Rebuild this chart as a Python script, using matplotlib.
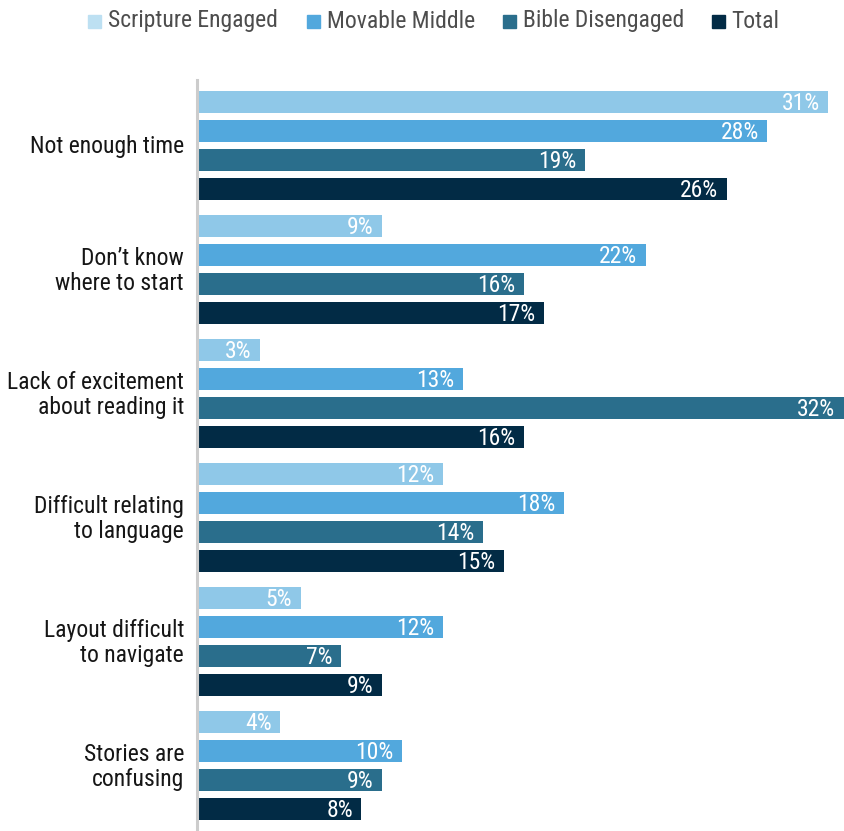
import matplotlib
matplotlib.use("Agg")
import matplotlib.pyplot as plt
import numpy as np

categories = ["Not enough time", "Don\u2019t know\nwhere to start", "Lack of excitement\nabout reading it",
              "Difficult relating\nto language", "Layout difficult\nto navigate", "Stories are\nconfusing"]
series_names = ["Scripture Engaged", "Movable Middle", "Bible Disengaged", "Total"]
scripture_engaged = [31, 9, 3, 12, 5, 4]
movable_middle = [28, 22, 13, 18, 12, 10]
bible_disengaged = [19, 16, 32, 14, 7, 9]
total = [26, 17, 16, 15, 9, 8]
colors = ["#8FC8E8", "#52A8DD", "#2A6E8C", "#022B45"]
legend_colors = ["#BDE0F2", "#52A8DD", "#2A6E8C", "#022B45"]

plt.rcParams["font.family"] = ["Roboto Condensed", "DejaVu Sans"]

W, H = 844, 831
fig = plt.figure(figsize=(W / 100, H / 100), dpi=100)
ax = fig.add_axes([199 / W, 0, (W - 199) / W, (H - 80) / H])

data = [scripture_engaged, movable_middle, bible_disengaged, total]
step = 29 / 124
height = 22 / 124
xmax = (W - 199) / 20.3
for j, vals in enumerate(data):
    ys = np.arange(len(categories)) + j * step
    ax.barh(ys, vals, height=height, color=colors[j], clip_on=True)
    for y, v in zip(ys, vals):
        ax.text(min(v, xmax) - 0.42, y + 0.01, f"{v}%", ha="right", va="center", color="white",
                fontsize=17, fontweight="normal")

ax.set_xlim(0, xmax)
ax.set_ylim(len(categories) - 1 + 3 * step + 22 / 124, -22 / 124)
ax.set_xticks([])
ax.set_yticks([])
for s in ["top", "right", "bottom"]:
    ax.spines[s].set_visible(False)
ax.spines["left"].set_color("#CCCCCC")
ax.spines["left"].set_linewidth(2.2)
ax.spines["left"].set_position(("outward", 1.5))

for i, c in enumerate(categories):
    ax.annotate(c, xy=(0, i + 1.5 * step + 0.01), xycoords=("axes fraction", "data"),
                xytext=(-15 * 0.72, 0), textcoords="offset points",
                ha="right", va="center", fontsize=17, fontweight="normal",
                color="#161616", linespacing=1.12)

sw = [88, 307, 503, 712]
tx = [108, 327, 523, 731]
for x, t, name, col in zip(sw, tx, series_names, legend_colors):
    fig.patches.append(plt.Rectangle((x / W, 1 - 28 / H), 13 / W, 13 / H, transform=fig.transFigure,
                                     color=col))
    fig.text(t / W, 1 - 21 / H, name, ha="left", va="center", fontsize=17, color="#4d4d4d")

fig.savefig("out.png", dpi=100)
